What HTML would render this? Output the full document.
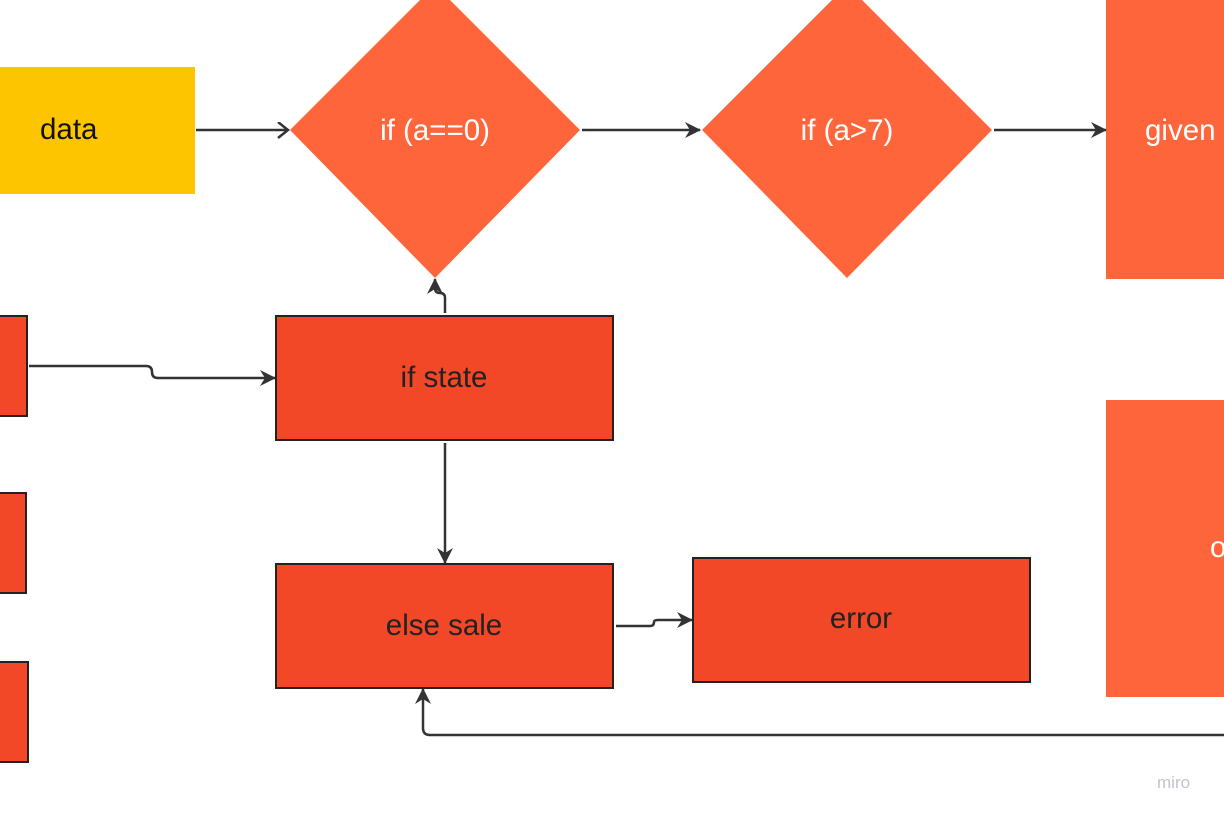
<!DOCTYPE html>
<html><head><meta charset="utf-8"><style>
html,body{margin:0;padding:0;background:#fff;width:1224px;height:816px;overflow:hidden}
svg text{font-family:"Liberation Sans",sans-serif;font-size:29.5px}
</style></head><body>
<svg width="1224" height="816" viewBox="0 0 1224 816" xmlns="http://www.w3.org/2000/svg">
<defs><marker id="a" markerWidth="18" markerHeight="18" refX="15" refY="8" orient="auto" markerUnits="userSpaceOnUse"><path d="M0,0 L16,8 L0,16 L5,8 Z" fill="#333"/></marker>
<marker id="o" markerWidth="14" markerHeight="18" refX="11" refY="8" orient="auto" markerUnits="userSpaceOnUse"><path d="M1,0 L11,8 L1,16" fill="none" stroke="#333" stroke-width="2.5"/></marker></defs>
<rect x="0" y="67" width="195" height="127" fill="#fdc500"/>
<text x="40" y="139" fill="#111">data</text>
<polygon points="435,-15 580,130 435,278 290,130" fill="#ff653b"/>
<text x="435" y="140" fill="#fff" text-anchor="middle">if (a==0)</text>
<polygon points="847,-15 992,130 847,278 702,130" fill="#ff653b"/>
<text x="847" y="140" fill="#fff" text-anchor="middle">if (a&gt;7)</text>
<rect x="1106" y="0" width="130" height="279" fill="#ff653b"/>
<text x="1145" y="140" fill="#fff">given</text>
<rect x="1106" y="400" width="130" height="297" fill="#ff653b"/>
<text x="1210" y="557" fill="#fff">o</text>
<rect x="-5" y="316" width="32" height="100" fill="#f24827" stroke="#222" stroke-width="2"/>
<rect x="-5" y="493" width="31" height="100" fill="#f24827" stroke="#222" stroke-width="2"/>
<rect x="-5" y="662" width="33" height="100" fill="#f24827" stroke="#222" stroke-width="2"/>
<rect x="276" y="316" width="337" height="124" fill="#f24827" stroke="#222" stroke-width="2"/>
<text x="444" y="387" fill="#222" text-anchor="middle">if state</text>
<rect x="276" y="564" width="337" height="124" fill="#f24827" stroke="#222" stroke-width="2"/>
<text x="444" y="635" fill="#222" text-anchor="middle">else sale</text>
<rect x="693" y="558" width="337" height="124" fill="#f24827" stroke="#222" stroke-width="2"/>
<text x="861" y="628" fill="#222" text-anchor="middle">error</text>
<g fill="none" stroke="#333" stroke-width="2.5">
<path d="M196,130 H288" marker-end="url(#o)"/>
<path d="M582,130 H700" marker-end="url(#a)"/>
<path d="M994,130 H1106" marker-end="url(#a)"/>
<path d="M29,366 H146 Q152,366 152,372 Q152,378 158,378 H275" marker-end="url(#a)"/>
<path d="M445,313 V298 Q445,293 440,293 Q435,293 435,288 V279" marker-end="url(#a)"/>
<path d="M445,443 V563" marker-end="url(#a)"/>
<path d="M616,626 H650 Q654,626 654,622 Q654,620 658,620 H692" marker-end="url(#a)"/>
<path d="M1224,735 H430 Q423,735 423,728 V689" marker-end="url(#a)"/>
</g>
<text x="1157" y="788" fill="#c0c4cc" style="font-size:17px">miro</text>
</svg>
</body></html>
